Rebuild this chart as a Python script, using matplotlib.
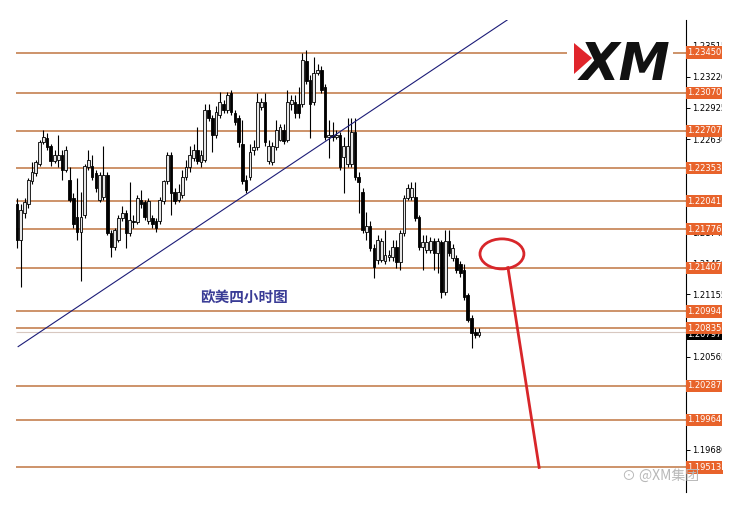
import matplotlib
matplotlib.use("Agg")
import matplotlib.pyplot as plt
import numpy as np
from matplotlib.patches import Ellipse, Polygon, Rectangle

plt.rcParams['font.family'] = ['DejaVu Sans', 'Noto Sans CJK SC']

# EURUSD H4 candles (open, high, low, close)
opens = [1.2201, 1.2167, 1.2193, 1.2201, 1.2223, 1.2231, 1.2239, 1.2260, 1.2264, 1.2256,
         1.2242, 1.2243, 1.2248, 1.2234, 1.2224, 1.2207, 1.2189, 1.2175, 1.2191, 1.2236,
         1.2237, 1.2231, 1.2205, 1.2208, 1.2229, 1.2174, 1.2161, 1.2167, 1.2188, 1.2193,
         1.2174, 1.2185, 1.2184, 1.2205, 1.2203, 1.2185, 1.2188, 1.2185, 1.2185, 1.2204,
         1.2223, 1.2248, 1.2213, 1.2205, 1.2210, 1.2227, 1.2236, 1.2245, 1.2253, 1.2241,
         1.2243, 1.2291, 1.2283, 1.2267, 1.2286, 1.2296, 1.2291, 1.2307, 1.2288, 1.2283,
         1.2258, 1.2224, 1.2227, 1.2253, 1.2255, 1.2293, 1.2298, 1.2242, 1.2241, 1.2255,
         1.2262, 1.2272, 1.2262, 1.2296, 1.2298, 1.2296, 1.2296, 1.2337, 1.2319, 1.2298,
         1.2326, 1.2329, 1.2312, 1.2265, 1.2267, 1.2265, 1.2267, 1.2246, 1.2239, 1.2239,
         1.2270, 1.2227, 1.2213, 1.2175, 1.2180, 1.2160, 1.2148, 1.2148, 1.2147, 1.2151,
         1.2151, 1.2161, 1.2146, 1.2174, 1.2207, 1.2208, 1.2208, 1.2189, 1.2161, 1.2158,
         1.2158, 1.2166, 1.2155, 1.2165, 1.2118, 1.2166, 1.2150, 1.2150, 1.2144, 1.2139,
         1.2115, 1.2093, 1.2080, 1.2077]
highs = [1.2207, 1.2201, 1.2207, 1.2226, 1.2241, 1.2243, 1.2262, 1.2272, 1.2269, 1.2258,
         1.2253, 1.2267, 1.2253, 1.2256, 1.2236, 1.2212, 1.2226, 1.2213, 1.2239, 1.2253,
         1.2248, 1.2234, 1.2232, 1.2256, 1.2232, 1.2177, 1.2179, 1.2191, 1.2199, 1.2196,
         1.2222, 1.2191, 1.2210, 1.2215, 1.2205, 1.2207, 1.2191, 1.2188, 1.2208, 1.2224,
         1.2251, 1.2251, 1.2217, 1.2220, 1.2234, 1.2243, 1.2256, 1.2258, 1.2274, 1.2253,
         1.2296, 1.2296, 1.2286, 1.2294, 1.2308, 1.2300, 1.2308, 1.2310, 1.2291, 1.2286,
         1.2281, 1.2229, 1.2258, 1.2262, 1.2307, 1.2302, 1.2307, 1.2262, 1.2260, 1.2281,
         1.2277, 1.2277, 1.2310, 1.2305, 1.2305, 1.2312, 1.2345, 1.2348, 1.2324, 1.2341,
         1.2334, 1.2332, 1.2315, 1.2281, 1.2279, 1.2272, 1.2270, 1.2265, 1.2283, 1.2283,
         1.2283, 1.2232, 1.2217, 1.2194, 1.2185, 1.2163, 1.2172, 1.2169, 1.2177, 1.2158,
         1.2167, 1.2167, 1.2177, 1.2210, 1.2220, 1.2222, 1.2222, 1.2191, 1.2172, 1.2172,
         1.2170, 1.2169, 1.2169, 1.2167, 1.2177, 1.2177, 1.2163, 1.2153, 1.2147, 1.2144,
         1.2117, 1.2096, 1.2084, 1.2084]
lows = [1.2160, 1.2123, 1.2188, 1.2198, 1.2220, 1.2228, 1.2237, 1.2258, 1.2253, 1.2237,
        1.2240, 1.2236, 1.2224, 1.2232, 1.2203, 1.2179, 1.2167, 1.2128, 1.2188, 1.2234,
        1.2224, 1.2213, 1.2203, 1.2205, 1.2172, 1.2151, 1.2158, 1.2165, 1.2185, 1.2160,
        1.2171, 1.2179, 1.2182, 1.2198, 1.2186, 1.2182, 1.2179, 1.2175, 1.2182, 1.2201,
        1.2220, 1.2191, 1.2201, 1.2203, 1.2207, 1.2224, 1.2232, 1.2242, 1.2239, 1.2236,
        1.2241, 1.2280, 1.2251, 1.2264, 1.2283, 1.2288, 1.2288, 1.2286, 1.2276, 1.2255,
        1.2220, 1.2212, 1.2224, 1.2248, 1.2253, 1.2291, 1.2256, 1.2239, 1.2238, 1.2253,
        1.2261, 1.2258, 1.2260, 1.2291, 1.2283, 1.2283, 1.2293, 1.2315, 1.2264, 1.2295,
        1.2324, 1.2307, 1.2262, 1.2245, 1.2261, 1.2263, 1.2234, 1.2212, 1.2236, 1.2236,
        1.2224, 1.2193, 1.2174, 1.2167, 1.2157, 1.2131, 1.2144, 1.2146, 1.2144, 1.2147,
        1.2147, 1.2141, 1.2139, 1.2171, 1.2205, 1.2205, 1.2185, 1.2158, 1.2139, 1.2155,
        1.2155, 1.2139, 1.2136, 1.2112, 1.2115, 1.2152, 1.2147, 1.2136, 1.2132, 1.2110,
        1.2089, 1.2065, 1.2074, 1.2075]
closes = [1.2167, 1.2196, 1.2203, 1.2224, 1.2232, 1.2241, 1.2260, 1.2265, 1.2255, 1.2242,
          1.2248, 1.2248, 1.2234, 1.2253, 1.2205, 1.2182, 1.2175, 1.2189, 1.2237, 1.2243,
          1.2227, 1.2217, 1.2229, 1.2229, 1.2174, 1.2161, 1.2177, 1.2188, 1.2193, 1.2174,
          1.2186, 1.2184, 1.2207, 1.2201, 1.2189, 1.2204, 1.2182, 1.2179, 1.2205, 1.2223,
          1.2248, 1.2212, 1.2204, 1.2213, 1.2227, 1.2236, 1.2248, 1.2253, 1.2242, 1.2248,
          1.2291, 1.2283, 1.2267, 1.2289, 1.2298, 1.2291, 1.2305, 1.2289, 1.2279, 1.2260,
          1.2223, 1.2215, 1.2251, 1.2255, 1.2298, 1.2298, 1.2260, 1.2256, 1.2256, 1.2272,
          1.2274, 1.2261, 1.2298, 1.2300, 1.2288, 1.2288, 1.2338, 1.2318, 1.2296, 1.2326,
          1.2329, 1.2310, 1.2265, 1.2267, 1.2265, 1.2267, 1.2236, 1.2256, 1.2256, 1.2270,
          1.2227, 1.2222, 1.2177, 1.2180, 1.2160, 1.2142, 1.2167, 1.2166, 1.2153, 1.2153,
          1.2161, 1.2146, 1.2174, 1.2207, 1.2217, 1.2217, 1.2188, 1.2161, 1.2165, 1.2165,
          1.2166, 1.2155, 1.2166, 1.2118, 1.2166, 1.2155, 1.2160, 1.2139, 1.2136, 1.2113,
          1.2091, 1.2079, 1.2077, 1.2080]

# price grid of the right scale and the drawn support / resistance levels
scale_ticks = [1.23515, 1.23220, 1.22925, 1.22630, 1.22335, 1.22040, 1.21745,
               1.21450, 1.21155, 1.20860, 1.20565, 1.20270, 1.19975, 1.19680]
levels = [1.23450, 1.23070, 1.22707, 1.22353, 1.22041, 1.21776,
          1.21407, 1.20994, 1.20835, 1.20287, 1.19964, 1.19513]
last_price = 1.20797

# trend line and the forecast drawing (bar index, price)
trend_x = [0.3, 130.5]
trend_y = [1.2066, 1.2376]
circle_xy = (129.1, 1.2154)
arrow_x = [130.7, 139.0]
arrow_y = [1.2141, 1.19513]

title = "欧美四小时图"

W, H = 737, 515
fig = plt.figure(figsize=(W / 100, H / 100), dpi=100)
ax = fig.add_axes([0, (H - 492) / H, 686 / W, (492 - 20) / H])

o = np.array(opens)
c = np.array(closes)
x = np.arange(len(o))
up = c >= o

ax.vlines(x, lows, highs, color='black', lw=0.8, zorder=3)
bottoms = np.minimum(o, c)
heights = np.maximum(np.abs(c - o), 0.00002)
ax.bar(x, heights, bottom=bottoms, width=0.72,
       color=np.where(up, '#e6e6e6', 'black'), edgecolor='black', linewidth=0.6, zorder=4)

xmax = 178.1
ax.hlines(levels, -0.3, xmax, color='#c98a5e', lw=1.3, zorder=1)
ax.hlines([last_price], -0.3, xmax, color='#d8c8c0', lw=0.8, zorder=1)

ax.plot(trend_x, trend_y, color='#1c1c78', lw=0.8, zorder=5)

ax.add_patch(Ellipse(circle_xy, 11.7, 0.00285, fill=False, ec='#d8262a', lw=2, zorder=6))
ax.plot(arrow_x, arrow_y, color='#d8262a', lw=2, zorder=6)

ax.text(60.4, 1.2113, title, color='#3a3c96', fontsize=10.5, fontweight='bold',
        family=['Noto Sans CJK SC', 'DejaVu Sans'], ha='center', va='center', zorder=6)

ax.set_xlim(-4.53, xmax)
ax.set_ylim(1.1928, 1.2376)

for s in ['top', 'left', 'bottom']:
    ax.spines[s].set_visible(False)
ax.spines['right'].set_color('black')
ax.spines['right'].set_linewidth(0.8)
ax.set_xticks([])
ax.yaxis.tick_right()
ax.set_yticks(scale_ticks)
ax.set_yticklabels([f"{t:.5f}" for t in scale_ticks])
ax.tick_params(axis='y', length=3, width=0.7, pad=1.5, labelsize=6, colors='black')

# orange price tags for the levels, black tag for the last price
for lv in levels:
    ax.text(1.002, lv, f"{lv:.5f}", transform=ax.get_yaxis_transform(), fontsize=6,
            color='white', ha='left', va='center', clip_on=False, zorder=8,
            bbox=dict(boxstyle='square,pad=0.2', fc='#e8632b', ec='none'))
ax.text(1.002, last_price - 0.0002, f"{last_price:.5f}", transform=ax.get_yaxis_transform(),
        fontsize=6, color='white', ha='left', va='center', clip_on=False, zorder=7,
        bbox=dict(boxstyle='square,pad=0.2', fc='black', ec='none'))

# screenshot is cut off on the right
fig.add_artist(Rectangle((722 / W, (H - 470) / H), 1, 1, transform=fig.transFigure,
                         fc='white', ec='none', zorder=20))

# XM logo
fig.add_artist(Rectangle((567 / W, (H - 88) / H), 106 / W, 56 / H, transform=fig.transFigure,
                         fc='white', ec='none', zorder=21))
fig.text(580 / W, (H - 80) / H, "XM", fontsize=37, fontweight='heavy', style='italic',
         color='#111111', family='DejaVu Sans', ha='left', va='baseline', zorder=22)
fig.add_artist(Polygon([(574 / W, (H - 43) / H), (574 / W, (H - 74) / H), (592 / W, (H - 58) / H)],
                       closed=True, transform=fig.transFigure, fc='#e0252b', ec='none', zorder=23))

fig.text(622 / W, (H - 476) / H, "\u2299 @XM集团", fontsize=10, color='#b8b8b8',
         family=['Noto Sans CJK SC', 'DejaVu Sans'], ha='left', va='center', zorder=22)

fig.savefig("out.png", dpi=100, facecolor='white')
